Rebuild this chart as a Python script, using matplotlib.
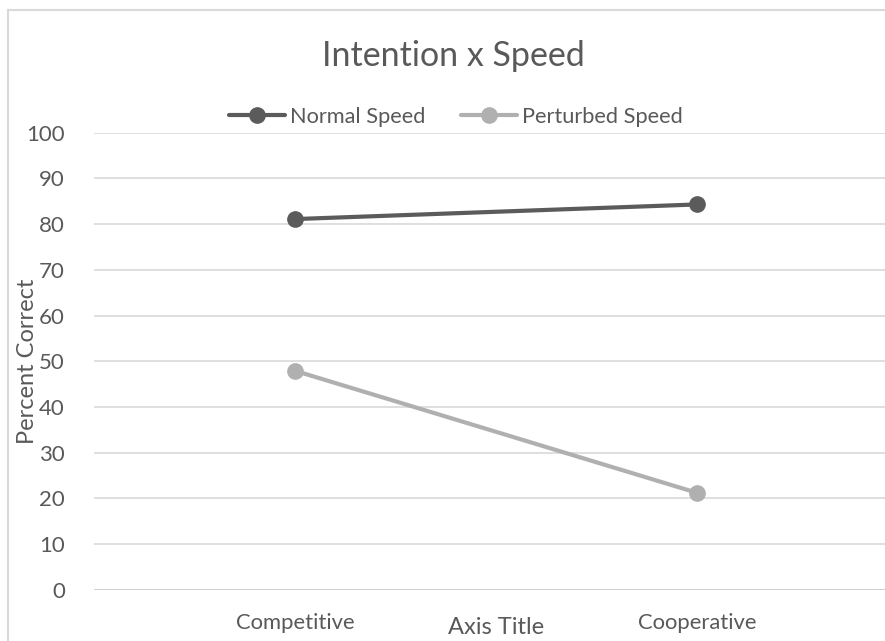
import matplotlib
matplotlib.use("Agg")
import matplotlib.pyplot as plt
from matplotlib.lines import Line2D

categories = ["Competitive", "Cooperative"]
normal_speed = [81.1, 84.3]
perturbed_speed = [47.9, 21.2]
y_ticks = [0, 10, 20, 30, 40, 50, 60, 70, 80, 90, 100]

plt.rcParams['font.family'] = ['Lato', 'DejaVu Sans']
TXT = '#595959'

fig = plt.figure(figsize=(8.85, 6.41), dpi=100)
W, H = 885, 641
ax = fig.add_axes([94 / W, 1 - 589.7 / H, 804 / W, (589.7 - 132.7) / H])

x = list(range(len(categories)))
ax.plot(x, normal_speed, color='#5b5b5b', lw=3.0, marker='o', ms=11,
        solid_capstyle='round', label='Normal Speed', zorder=3)
ax.plot(x, perturbed_speed, color='#b0b0b0', lw=3.0, marker='o', ms=11,
        solid_capstyle='round', label='Perturbed Speed', zorder=3)

ax.set_xlim(-0.5, 1.5)
ax.set_ylim(0, 100)
ax.set_yticks(y_ticks)
ax.set_yticklabels([str(v) for v in y_ticks])
ax.set_xticks(x)
ax.set_xticklabels(categories)
ax.tick_params(axis='y', length=0, labelsize=16, colors=TXT, pad=21)
ax.tick_params(axis='x', length=0, labelsize=15.8, colors=TXT, pad=17)
ax.grid(axis='y', color='#d9d9d9', lw=1.2)
ax.set_axisbelow(True)
for s in ax.spines.values():
    s.set_visible(False)
ax.axhline(0, color='#d0d0d0', lw=1.3, zorder=1)

ax.set_ylabel('Percent Correct', fontsize=17, color=TXT)
ax.yaxis.set_label_coords((38 - 94) / 804, 0.5)
ax.set_xlabel('Axis Title', fontsize=17, color=TXT)
ax.xaxis.set_label_coords(0.5, (589.7 - 627) / (589.7 - 132.7))
ax.xaxis.label.set_va('center')

fig.text(453 / W, 1 - 56 / H, 'Intention x Speed', fontsize=24.5, color=TXT,
         ha='center', va='center')

leg = fig.legend(loc='center', bbox_to_anchor=(456 / W, 1 - 117 / H), ncol=2,
                 frameon=False, fontsize=15.7, handlelength=2.6, handletextpad=0.23,
                 columnspacing=1.6, labelcolor=TXT)

border_col = '#d9d9d9'
fig.add_artist(Line2D([8 / W, 8 / W], [0, 1 - 9.5 / H], transform=fig.transFigure,
                      color=border_col, lw=1.5))
fig.add_artist(Line2D([8 / W, 1], [1 - 9.5 / H, 1 - 9.5 / H], transform=fig.transFigure,
                      color=border_col, lw=1.5))

fig.savefig('out.png', dpi=100)
